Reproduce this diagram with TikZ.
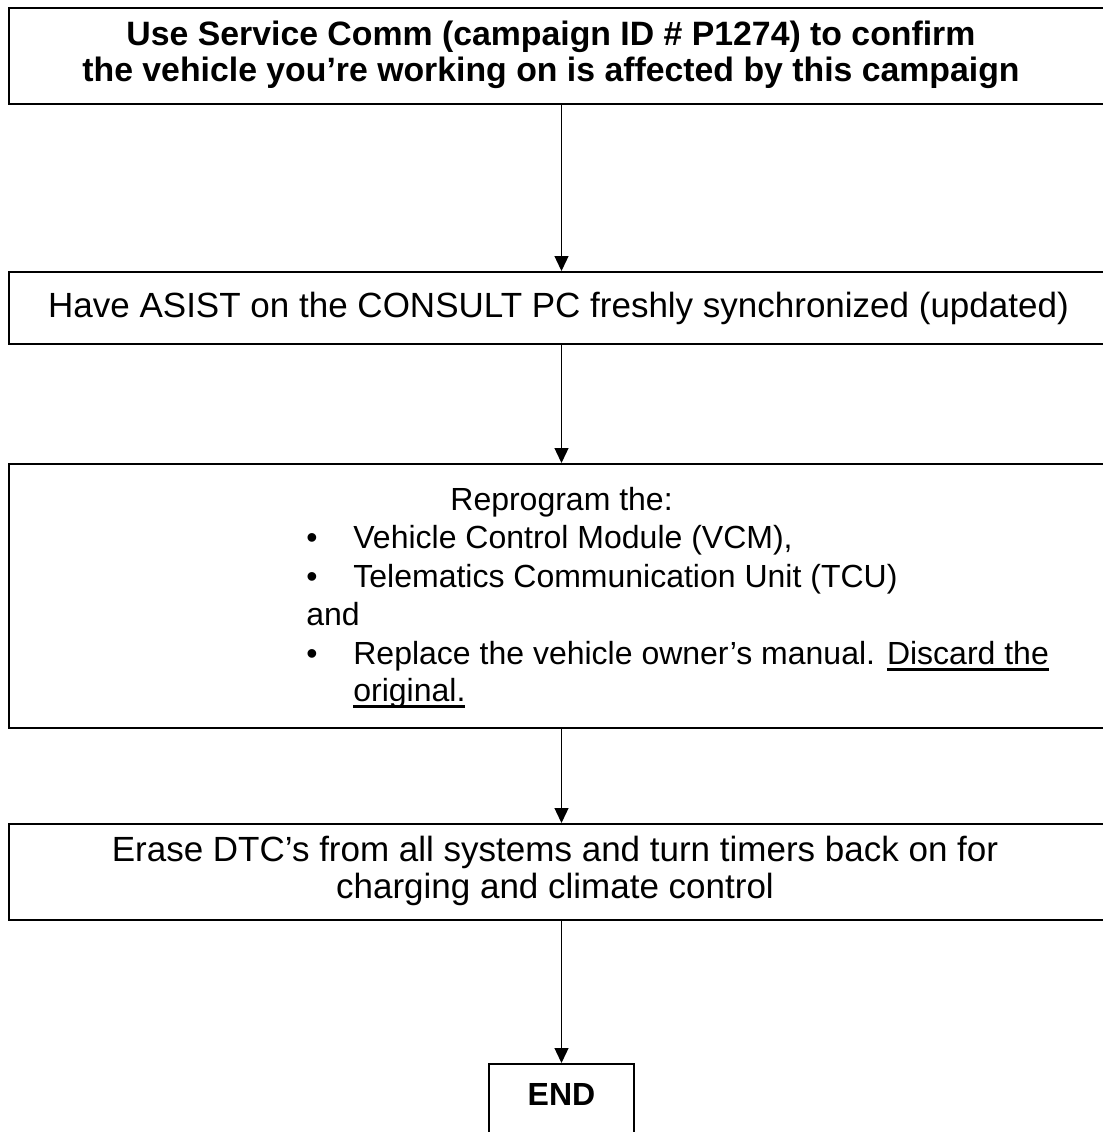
\documentclass[tikz,border=0pt]{standalone}
\usepackage{fontspec}
\setmainfont{Liberation Sans}
\usetikzlibrary{arrows.meta,positioning}
\newcommand{\undl}[1]{\setbox0=\hbox{#1}\rlap{\rule[-3.4pt]{\wd0}{1.2pt}}\box0}

\begin{document}
\begin{tikzpicture}[x=0.5pt, y=-0.5pt,
    stepbox/.style={rectangle, draw, line width=1pt, minimum width=552.5pt, inner sep=0pt},
    txt/.style={inner sep=0pt, font=\fontsize{16}{19}\selectfont},
    bigtxt/.style={inner sep=0pt, align=center, font=\fontsize{17.5}{18.5}\selectfont},
    flow/.style={-{Triangle[width=7pt,length=7.5pt]}, line width=0.65pt}]
    \useasboundingbox (0,0) rectangle (1103,1132);

    % boxes
    \node[stepbox, minimum height=48pt] (confirm) at (561.5,56) {};
    \node[stepbox, minimum height=36pt] (sync) at (561.5,308) {};
    \node[stepbox, minimum height=132pt] (reprog) at (561.5,596) {};
    \node[stepbox, minimum height=48pt] (erase) at (561.5,872) {};
    \node[stepbox, minimum width=72.5pt, minimum height=43pt] (finish) at (561.5,1107) {};

    % texts
    \node[bigtxt, font=\fontsize{16.9}{18}\selectfont\bfseries] (confirmtxt) at (551,55)
        {Use Service Comm (campaign ID \# P1274) to confirm\\the vehicle you’re working on is affected by this campaign};
    \node[bigtxt] (synctxt) at (558.5,308) {Have ASIST on the CONSULT PC freshly synchronized (updated)};
    \node[txt, anchor=base west] (reprogtxt) at (450,510) {Reprogram the:};
    \node[txt, anchor=base west] (vcm) at (306,548) {\makebox[23.5pt][l]{•}Vehicle Control Module (VCM),};
    \node[txt, anchor=base west] (tcu) at (306,587) {\makebox[23.5pt][l]{•}Telematics Communication Unit (TCU)};
    \node[txt, anchor=base west] (andtxt) at (306,625) {and};
    \node[txt, anchor=base west] (manual) at (306,664) {\makebox[23.5pt][l]{•}Replace the vehicle owner’s manual. \undl{Discard the}};
    \node[txt, anchor=base west] (original) at (353,701) {\undl{original.}};
    \node[bigtxt] (erasetxt) at (555,871)
        {Erase DTC’s from all systems and turn timers back on for\\charging and climate control};
    \node[txt, font=\fontsize{16}{19}\selectfont\bfseries] (finishtxt) at (561.5,1094) {END};

    % arrows
    \draw[flow] (confirm) -- (sync);
    \draw[flow] (sync) -- (reprog);
    \draw[flow] (reprog) -- (erase);
    \draw[flow] (erase) -- (finish);
\end{tikzpicture}
\end{document}
